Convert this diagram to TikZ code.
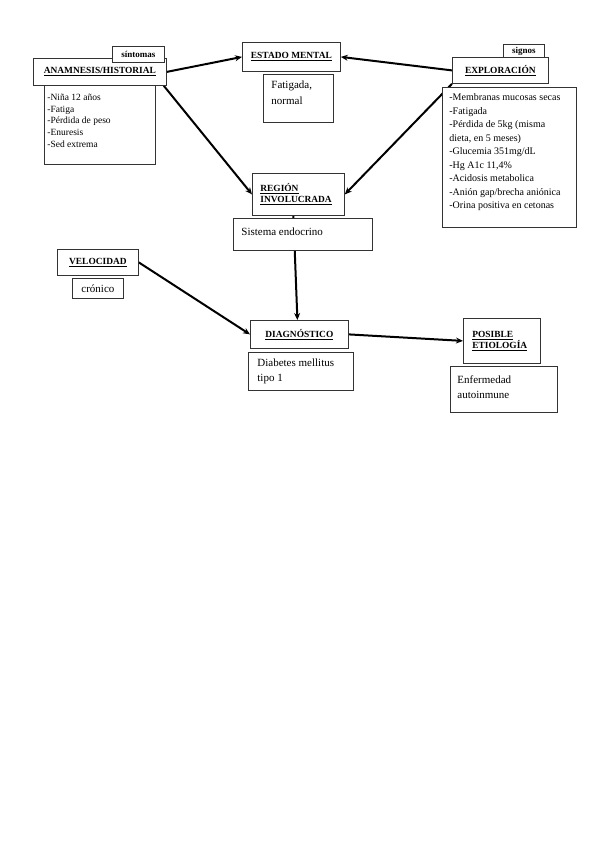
\documentclass[tikz,border=0pt]{standalone}
\usepackage{fontspec}
\setmainfont{Liberation Serif}
\usetikzlibrary{positioning,calc,arrows.meta,backgrounds}

\newcommand{\headfont}{\bfseries\fontsize{9.4}{11}\selectfont}
\newcommand{\tagfont}{\bfseries\fontsize{9}{10}\selectfont}
% text at the top of a box: width, height, top gap (all in pt), lines
\newcommand{\boxlines}[4]{\parbox[c][#2pt][t]{#1pt}{\vspace*{#3pt}#4}}

\tikzset{
    box/.style={draw=black!80, line width=0.8pt, fill=white, inner sep=0pt, anchor=north west},
    head/.style={box, font=\headfont},
    tag/.style={box, font=\tagfont},
    link/.style={line width=2pt, -{Stealth[length=7pt,width=6pt]}},
}

\begin{document}
\begin{tikzpicture}[x=1pt,y=-1pt]
    \useasboundingbox (0,0) rectangle (599,848);

    % Anamnesis
    \node[head, minimum width=133, minimum height=27] (anam) at (33,58) {\underline{ANAMNESIS/HISTORIAL}};
    \node[tag, minimum width=52, minimum height=16] (sint) at (112,46) {síntomas};
    \node[box, inner xsep=3, font=\fontsize{9.5}{11.8}\selectfont] (anamlist) at (44,85)
        {\boxlines{105}{79}{8.5}{-Niña 12 años\\-Fatiga\\-Pérdida de peso\\-Enuresis\\-Sed extrema}};

    % Estado mental
    \node[head, minimum width=98, minimum height=29] (estado) at (242,42) {\underline{ESTADO MENTAL}};
    \node[box, inner xsep=8, font=\fontsize{11}{16}\selectfont] (estadotxt) at (263,74)
        {\boxlines{54}{48}{6.5}{Fatigada,\\normal}};

    % Exploracion
    \node[head, minimum width=96, minimum height=26] (expl) at (452,57) {\underline{EXPLORACIÓN}};
    \node[tag, minimum width=41, minimum height=13] (sig) at (503,44) {signos};
    \node[box, inner xsep=7, font=\fontsize{10}{13.5}\selectfont] (expllist) at (442,87)
        {\boxlines{120}{140}{6.5}{-Membranas mucosas secas\\-Fatigada\\-Pérdida de 5kg (misma\\dieta, en 5 meses)\\-Glucemia 351mg/dL\\-Hg A1c 11,4\%\\-Acidosis metabolica\\-Anión gap/brecha aniónica\\-Orina positiva en cetonas}};

    % Region involucrada
    \node[head, minimum height=42, text width=76, inner xsep=8, align=left] (region) at (252,173)
        {\underline{REGIÓN}\\\underline{INVOLUCRADA}};
    \node[box, inner xsep=8, font=\fontsize{11}{15}\selectfont] (sist) at (233,218)
        {\boxlines{123}{32}{9.5}{Sistema endocrino}};

    % Velocidad
    \node[head, minimum width=81, minimum height=26] (vel) at (57,249) {\underline{VELOCIDAD}};
    \node[box, minimum width=51, minimum height=20, font=\fontsize{11}{13}\selectfont] (veltxt) at (72,278) {crónico};

    % Diagnostico
    \node[head, minimum width=98, minimum height=28] (diag) at (250,320) {\underline{DIAGNÓSTICO}};
    \node[box, inner xsep=9, font=\fontsize{11}{15}\selectfont] (diagtxt) at (248,352)
        {\boxlines{87}{38}{6}{Diabetes mellitus\\tipo 1}};

    % Posible etiologia
    \node[head, minimum height=45, text width=59, inner xsep=9, align=left] (etio) at (463,318)
        {\underline{POSIBLE}\\\underline{ETIOLOGÍA}};
    \node[box, inner xsep=7, font=\fontsize{11}{15}\selectfont] (etiotxt) at (450,366)
        {\boxlines{93}{46}{9}{Enfermedad\\autoinmune}};

    % arrows
    \begin{scope}[on background layer]
        \draw[link] (anam.east) -- (estado.west);
        \draw[link] (expl.west) -- (estado.east);
        \draw[link] ([xshift=-3pt]anam.south east) -- (region.west);
        \draw[link] (expl.south west) -- (region.east);
        \draw[link] ([xshift=-5pt]region.south) -- ([xshift=-2pt]diag.north);
        \draw[link] (vel.east) -- (diag.west);
        \draw[link] (diag.east) -- (etio.west);
    \end{scope}
\end{tikzpicture}
\end{document}
